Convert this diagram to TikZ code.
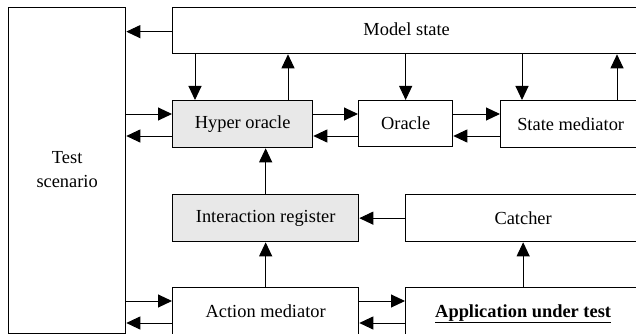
\documentclass[tikz,border=0pt]{standalone}
\usepackage{fontspec}
\setmainfont{Liberation Serif}
\newfontfamily\diafont{Liberation Serif}
\usetikzlibrary{arrows.meta,calc}
\definecolor{boxgray}{HTML}{E8E8E8}
\tikzset{
  box/.style={draw=black, line width=1.3pt, rectangle, anchor=north west, inner sep=0pt,
    font=\diafont\fontsize{18.4}{24}\selectfont, align=center},
  graybox/.style={box, fill=boxgray},
  arr/.style={line width=1pt, -{Triangle[length=14pt,width=13pt]}},
}
\begin{document}
\begin{tikzpicture}[x=1pt,y=-1pt]
\useasboundingbox (0,0) rectangle (636,334);
\clip (0,0) rectangle (636,334);
\fill[white] (0,0) rectangle (636,334);
% nodes
\node[box, minimum width=117pt, minimum height=326pt] (ts) at (8,7) {\raisebox{-5pt}{\begin{tabular}{@{}c@{}}Test\\scenario\end{tabular}}};
\node[box, minimum width=468pt, minimum height=46pt] (ms) at (172,7) {\raisebox{4pt}{Model state}};
\node[graybox, minimum width=140pt, minimum height=47pt] (ho) at (172,100) {Hyper oracle};
\node[box, minimum width=94pt, minimum height=46pt] (or) at (358,100) {Oracle};
\node[box, minimum width=140pt, minimum height=47pt] (sm) at (500,100) {State mediator};
\node[graybox, minimum width=186pt, minimum height=47pt] (ir) at (172,194) {Interaction register};
\node[box, minimum width=235pt, minimum height=47pt] (ca) at (405,194) {Catcher};
\node[box, minimum width=186pt, minimum height=52pt] (am) at (172,287) {\raisebox{6pt}{Action mediator}};
\node[box, minimum width=235pt, minimum height=52pt] (au) at (405,287) {\raisebox{6pt}{\underline{\textbf{Application under test}}}};
% connectors
\draw[arr] ([yshift=-1pt]ms.west) -- ([yshift=-1pt]ms.west -| ts.east);
\draw[arr] ([xshift=23pt]ho.north west |- ms.south) -- ([xshift=23pt]ho.north west);
\draw[arr] ([xshift=116pt]ho.north west) -- ([xshift=116pt]ho.north west |- ms.south);
\draw[arr] (or.north |- ms.south) -- (or.north);
\draw[arr] ([xshift=22pt]sm.north west |- ms.south) -- ([xshift=22pt]sm.north west);
\draw[arr] ([xshift=117pt]sm.north west) -- ([xshift=117pt]sm.north west |- ms.south);
% horizontal pairs
\draw[arr] ([yshift=-14pt]ho.north west -| ts.east) -- ([yshift=-14pt]ho.north west);
\draw[arr] ([yshift=-36pt]ho.north west) -- ([yshift=-36pt]ho.north west -| ts.east);
\draw[arr] ([yshift=-14pt]ho.north east) -- ([yshift=-14pt]or.north west);
\draw[arr] ([yshift=-36pt]or.north west) -- ([yshift=-36pt]ho.north east);
\draw[arr] ([yshift=-14pt]or.north east) -- ([yshift=-14pt]sm.north west);
\draw[arr] ([yshift=-36pt]sm.north west) -- ([yshift=-36pt]or.north east);
% middle
\draw[arr] (ir.north) -- (ir.north |- ho.south);
\draw[arr] (ca.west) -- (ca.west -| ir.east);
\draw[arr] (am.north) -- (ir.south);
\draw[arr] (au.north) -- (ca.south);
% bottom pairs
\draw[arr] ([yshift=-14pt]am.north west -| ts.east) -- ([yshift=-14pt]am.north west);
\draw[arr] ([yshift=-36pt]am.north west) -- ([yshift=-36pt]am.north west -| ts.east);
\draw[arr] ([yshift=-14pt]am.north east) -- ([yshift=-14pt]au.north west);
\draw[arr] ([yshift=-36pt]au.north west) -- ([yshift=-36pt]am.north east);
\end{tikzpicture}
\end{document}
